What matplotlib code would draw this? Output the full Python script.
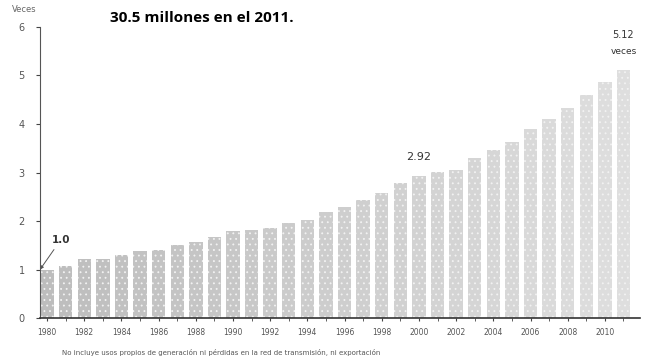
import numpy as np
import matplotlib.pyplot as plt

# Crecimiento del consumo de electricidad, 1980 = 1.0 (veces)
years = list(range(1980, 2012))
values = [1.00, 1.08, 1.21, 1.21, 1.30, 1.38, 1.40, 1.50, 1.56, 1.68,
          1.79, 1.81, 1.86, 1.95, 2.02, 2.18, 2.29, 2.43, 2.57, 2.78,
          2.92, 3.02, 3.05, 3.29, 3.46, 3.63, 3.90, 4.11, 4.32, 4.59,
          4.86, 5.12]
tick_years = list(range(1980, 2011, 2))
y_ticks = [0, 1, 2, 3, 4, 5, 6]

title = "30.5 millones en el 2011."
note = ("No incluye usos propios de generación ni pérdidas en la red de "
        "transmisión, ni exportación")

plt.rcParams["hatch.linewidth"] = 0.6

fig = plt.figure(figsize=(6.45, 3.64), dpi=100)
ax = fig.add_axes([0.062, 0.126, 0.93, 0.80])

x = np.arange(len(years))
# bars fade from darker grey on the left to lighter grey on the right
shades = np.linspace(0.74, 0.87, len(years))
colors = [(s, s, s) for s in shades]
bars = ax.bar(x, values, width=0.72, color=colors, edgecolor="#f2f2f2",
              linewidth=0, hatch="...", zorder=2)

ax.set_xlim(-0.38, 31.88)
ax.set_ylim(0, 6)
ax.set_yticks(y_ticks)
ax.set_yticklabels([str(v) for v in y_ticks], color="#555555", fontsize=7)
ax.set_xticks(x, minor=True)
ax.set_xticks([years.index(y) for y in tick_years])
ax.set_xticklabels([str(y) for y in tick_years], color="#555555", fontsize=5.5)
ax.tick_params(axis="x", which="both", length=2, color="#444444", pad=5)
ax.tick_params(axis="y", length=3, color="#444444", pad=8)

for side in ["top", "right"]:
    ax.spines[side].set_visible(False)
ax.spines["left"].set_color("#555555")
ax.spines["bottom"].set_color("#333333")
ax.spines["bottom"].set_linewidth(1.2)

# annotations
ax.annotate("1.0", xy=(-0.38, values[0]), xytext=(0.75, 1.62),
            fontsize=7.5, fontweight="bold", color="#333333",
            ha="center", va="center",
            arrowprops=dict(arrowstyle="-|>", color="#555555", lw=0.7,
                            mutation_scale=5, shrinkB=0))
ax.text(years.index(2000), values[years.index(2000)] + 0.3, "2.92",
        fontsize=8, color="#333333", ha="center", va="bottom")
ax.text(x[-1], values[-1] + 0.62, "5.12", fontsize=7, color="#333333",
        ha="center", va="bottom")
ax.text(x[-1], values[-1] + 0.29, "veces", fontsize=6.5, color="#333333",
        ha="center", va="bottom")

fig.text(0.038, 0.975, "Veces", fontsize=6, color="#666666", ha="center",
         va="center")
fig.text(0.17, 0.95, title, fontsize=11, fontweight="bold",
         family="Open Sans", color="black", ha="left", va="center")
fig.text(0.096, 0.032, note, fontsize=5, color="#555555", ha="left",
         va="center")

fig.savefig("out.png", dpi=100)
